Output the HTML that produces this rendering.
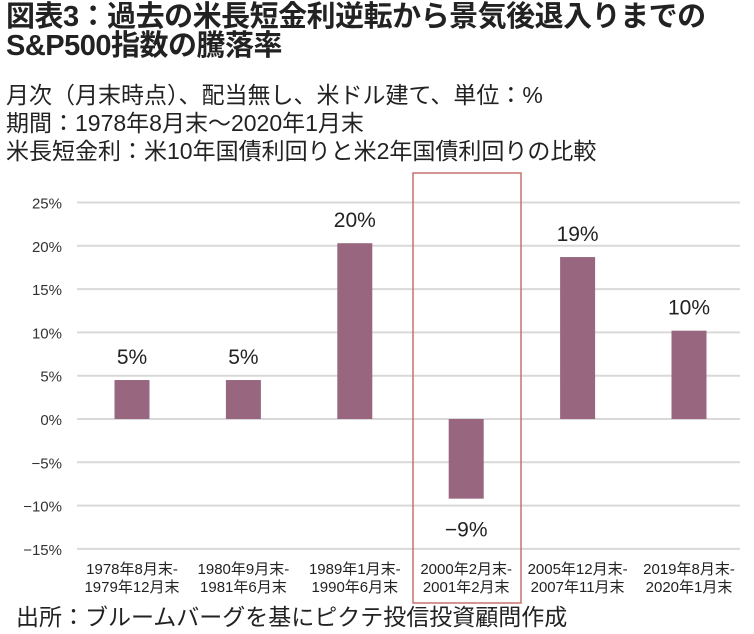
<!DOCTYPE html>
<html><head><meta charset="utf-8"><style>
body{margin:0;background:#fff;width:754px;height:634px;overflow:hidden;font-family:"Liberation Sans","Noto Sans CJK JP",sans-serif;color:#222}
.t{position:absolute;left:6px;white-space:nowrap}
</style></head><body>
<div class="t" style="top:3px;font-size:29px;font-weight:bold;line-height:29px;letter-spacing:-0.5px">図表3：過去の米長短金利逆転から景気後退入りまでの<br>S&amp;P500指数の騰落率</div>
<div class="t" style="top:81px;font-size:23px;line-height:28px">月次（月末時点）、配当無し、米ドル建て、単位：%<br>期間：1978年8月末～2020年1月末<br>米長短金利：米10年国債利回りと米2年国債利回りの比較</div>
<svg id="c" width="754" height="634" style="position:absolute;left:0;top:0"></svg>
<div class="t" style="top:598px;left:16px;font-size:23px">出所：ブルームバーグを基にピクテ投信投資顧問作成</div>
<script>
const categories1=["1978年8月末-","1980年9月末-","1989年1月末-","2000年2月末-","2005年12月末-","2019年8月末-"];
const categories2=["1979年12月末","1981年6月末","1990年6月末","2001年2月末","2007年11月末","2020年1月末"];
const values=[4.5,4.5,20.3,-9.2,18.7,10.2];
const valueLabels=["5%","5%","20%","-9%","19%","10%"];
const ticks=[25,20,15,10,5,0,-5,-10,-15];
const svg=document.getElementById('c');const NS="http://www.w3.org/2000/svg";
function y(v){return 419-v*8.66;}
function x(i){return 132+i*111.4;}
function mk(t,a,txt){const e=document.createElementNS(NS,t);for(const k in a)e.setAttribute(k,a[k]);if(txt!=null)e.textContent=txt;svg.appendChild(e);return e;}
ticks.forEach(t=>{
 const l=mk('line',{x1:77,x2:740,y1:y(t),y2:y(t),stroke:'#d9d9d9','stroke-width':2});
 
 
 const tx=mk('text',{x:62,y:y(t)+6,'text-anchor':'end','font-size':15,fill:'#333'},(t<0?'−':'')+Math.abs(t)+'%');
 
 
});
values.forEach((v,i)=>{
 const top=Math.min(y(v),y(0)),h=Math.abs(y(v)-y(0));
 const r=mk('rect',{x:x(i)-17.5,y:top,width:35,height:h,fill:'#98677f'});
 
 
 const ly=v>=0?y(v)-16:y(v)+38;
 const lb=mk('text',{x:x(i),y:ly,'text-anchor':'middle','font-size':21,fill:'#222'},valueLabels[i].replace('-','−'));
 
 
 const a=mk('text',{x:x(i),y:574,'text-anchor':'middle','font-size':15,fill:'#222'},categories1[i]);
 
 
 const b=mk('text',{x:x(i),y:592,'text-anchor':'middle','font-size':15,fill:'#222'},categories2[i]);
 
 
});
const hl=mk('rect',{x:413,y:173,width:108,height:430,fill:'none',stroke:'#c9716f','stroke-width':1.5});


</script>
</body></html>
